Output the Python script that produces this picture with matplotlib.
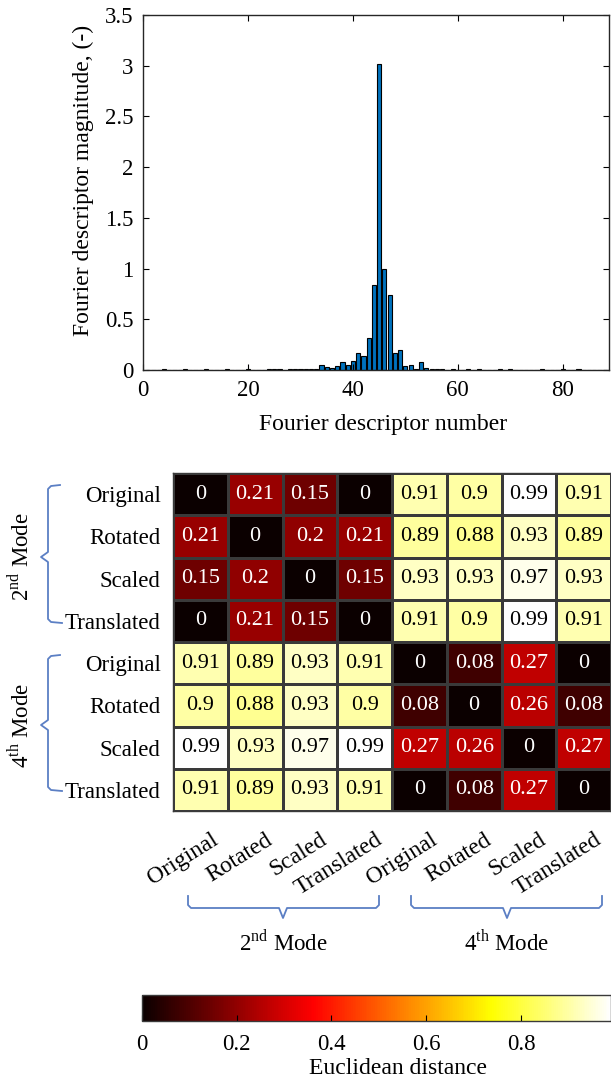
import numpy as np
import matplotlib
matplotlib.use('Agg')
import matplotlib.pyplot as plt
from matplotlib.lines import Line2D
import matplotlib.transforms as mtransforms

plt.rcParams['font.family'] = ['Liberation Serif', 'DejaVu Serif']
plt.rcParams['mathtext.fontset'] = 'custom'
plt.rcParams['mathtext.rm'] = 'Liberation Serif'

# Fourier descriptor magnitudes, descriptor numbers 1..89
fd_number = list(range(1, 90))
fd_magnitude = [
    0.004, 0.003, 0.004, 0.005, 0.003, 0.004, 0.004, 0.005, 0.003, 0.004,
    0.004, 0.005, 0.004, 0.003, 0.004, 0.005, 0.004, 0.003, 0.004, 0.006,
    0.004, 0.003, 0.004, 0.005, 0.012, 0.006, 0.004, 0.006, 0.012, 0.006,
    0.012, 0.012, 0.006, 0.046, 0.033, 0.020, 0.035, 0.080, 0.053, 0.092,
    0.165, 0.140, 0.320, 0.840, 3.020, 1.000, 0.740, 0.170, 0.200, 0.043,
    0.053, 0.013, 0.076, 0.016, 0.012, 0.008, 0.005, 0.004, 0.006, 0.004,
    0.003, 0.005, 0.004, 0.005, 0.004, 0.003, 0.004, 0.005, 0.004, 0.006,
    0.003, 0.004, 0.004, 0.003, 0.004, 0.005, 0.003, 0.004, 0.004, 0.005,
    0.003, 0.004, 0.005, 0.004, 0.003, 0.004, 0.004, 0.003, 0.004,
]

shape_labels = ['Original', 'Rotated', 'Scaled', 'Translated'] * 2
mode_labels = ['2$^{\\rm nd}$ Mode', '4$^{\\rm th}$ Mode']
distance = [
    [0, 0.21, 0.15, 0, 0.91, 0.9, 0.99, 0.91],
    [0.21, 0, 0.2, 0.21, 0.89, 0.88, 0.93, 0.89],
    [0.15, 0.2, 0, 0.15, 0.93, 0.93, 0.97, 0.93],
    [0, 0.21, 0.15, 0, 0.91, 0.9, 0.99, 0.91],
    [0.91, 0.89, 0.93, 0.91, 0, 0.08, 0.27, 0],
    [0.9, 0.88, 0.93, 0.9, 0.08, 0, 0.26, 0.08],
    [0.99, 0.93, 0.97, 0.99, 0.27, 0.26, 0, 0.27],
    [0.91, 0.89, 0.93, 0.91, 0, 0.08, 0.27, 0],
]
cbar_ticks = [0, 0.2, 0.4, 0.6, 0.8]

W, H = 611, 1082
fig = plt.figure(figsize=(W / 100, H / 100), dpi=100)

def box(x0, y0, x1, y1):
    # pixel box (top-left origin) -> figure fraction rect
    return [x0 / W, 1 - y1 / H, (x1 - x0) / W, (y1 - y0) / H]

def px(pts):
    xs = [p[0] / W for p in pts]
    ys = [1 - p[1] / H for p in pts]
    return xs, ys

# ---- top: bar chart
ax1 = fig.add_axes(box(143, 15, 609, 370))
ax1.bar(fd_number, fd_magnitude, width=0.8, color='#0072BD', edgecolor='black', linewidth=0.8)
ax1.set_xlim(0, 88.8)
ax1.set_ylim(0, 3.5)
ax1.set_xticks([0, 20, 40, 60, 80])
ax1.set_yticks([0, 0.5, 1, 1.5, 2, 2.5, 3, 3.5])
ax1.set_yticklabels(['0', '0.5', '1', '1.5', '2', '2.5', '3', '3.5'])
ax1.tick_params(direction='in', top=True, right=True, labelsize=16.5, length=4, pad=7)
ax1.set_xlabel('Fourier descriptor number', fontsize=17)
ax1.set_ylabel('Fourier descriptor magnitude, (-)', fontsize=17)
ax1.xaxis.set_label_coords(0.515, -0.125)
ax1.yaxis.set_label_coords(-0.105, 0.535)
for s in ax1.spines.values():
    s.set_linewidth(1.0)
    s.set_color('#262626')

# ---- middle: heatmap
ax2 = fig.add_axes(box(173, 473, 611, 811))
data = np.array(distance)
mesh = ax2.pcolormesh(data, cmap='hot', vmin=0, vmax=0.99, edgecolors='#3a3a3a', linewidth=0.8)
ax2.set_xlim(0, 8)
ax2.set_ylim(8, 0)
for i in range(8):
    for j in range(8):
        v = distance[i][j]
        ax2.text(j + 0.5, i + 0.5, f'{v:g}', ha='center', va='center', fontsize=16,
                 color='white' if v < 0.5 else 'black')
ax2.set_yticks(np.arange(8) + 0.5)
ax2.set_yticklabels(shape_labels, fontsize=16.5)
ax2.set_xticks(np.arange(8) + 0.5)
ax2.set_xticklabels(shape_labels, fontsize=17, rotation=32, ha='right', va='top',
                    rotation_mode='anchor')
ax2.tick_params(length=0, pad=9)
ax2.tick_params(axis='x', pad=13)
shift = mtransforms.ScaledTranslation(10 / 100, 0, fig.dpi_scale_trans)
for lab in ax2.get_xticklabels():
    lab.set_transform(lab.get_transform() + shift)
for s in ax2.spines.values():
    s.set_linewidth(1.0)
    s.set_color('#3a3a3a')

# brace annotations
brace_col = '#5B7FC4'
for top, mid, bot, lab in [(485, 557, 623, mode_labels[0]), (655, 725, 791, mode_labels[1])]:
    pts = [(60, top), (51, top + 1), (48, top + 4), (48, mid - 5), (41, mid), (48, mid + 5),
           (48, bot - 4), (51, bot - 1), (62, bot)]
    xs, ys = px(pts)
    fig.add_artist(Line2D(xs, ys, color=brace_col, lw=1.3))
    fig.text(20 / W, 1 - mid / H, lab, rotation=90, ha='center', va='center', fontsize=16.5)

for x0, xm, x1, lab in [(188, 283, 379, mode_labels[0]), (411, 507, 602, mode_labels[1])]:
    pts = [(x0, 896), (x0, 905), (x0 + 3, 908), (xm - 4, 908), (xm, 918), (xm + 4, 908),
           (x1 - 3, 908), (x1, 905), (x1, 896)]
    xs, ys = px(pts)
    fig.add_artist(Line2D(xs, ys, color=brace_col, lw=1.3))
    fig.text(xm / W, 1 - 942 / H, lab, ha='center', va='center', fontsize=16.5)

# ---- bottom: colorbar
cax = fig.add_axes(box(142, 995, 611, 1021))
cb = fig.colorbar(mesh, cax=cax, orientation='horizontal', ticks=cbar_ticks)
cb.ax.set_xticklabels(['0', '0.2', '0.4', '0.6', '0.8'])
cb.ax.tick_params(direction='in', length=4, labelsize=16.5, pad=9)
cb.outline.set_linewidth(1.0)
cb.outline.set_edgecolor('#3a3a3a')
fig.text(398 / W, 1 - 1068 / H, 'Euclidean distance', ha='center', va='center', fontsize=17)

fig.savefig('out.png', dpi=100)
